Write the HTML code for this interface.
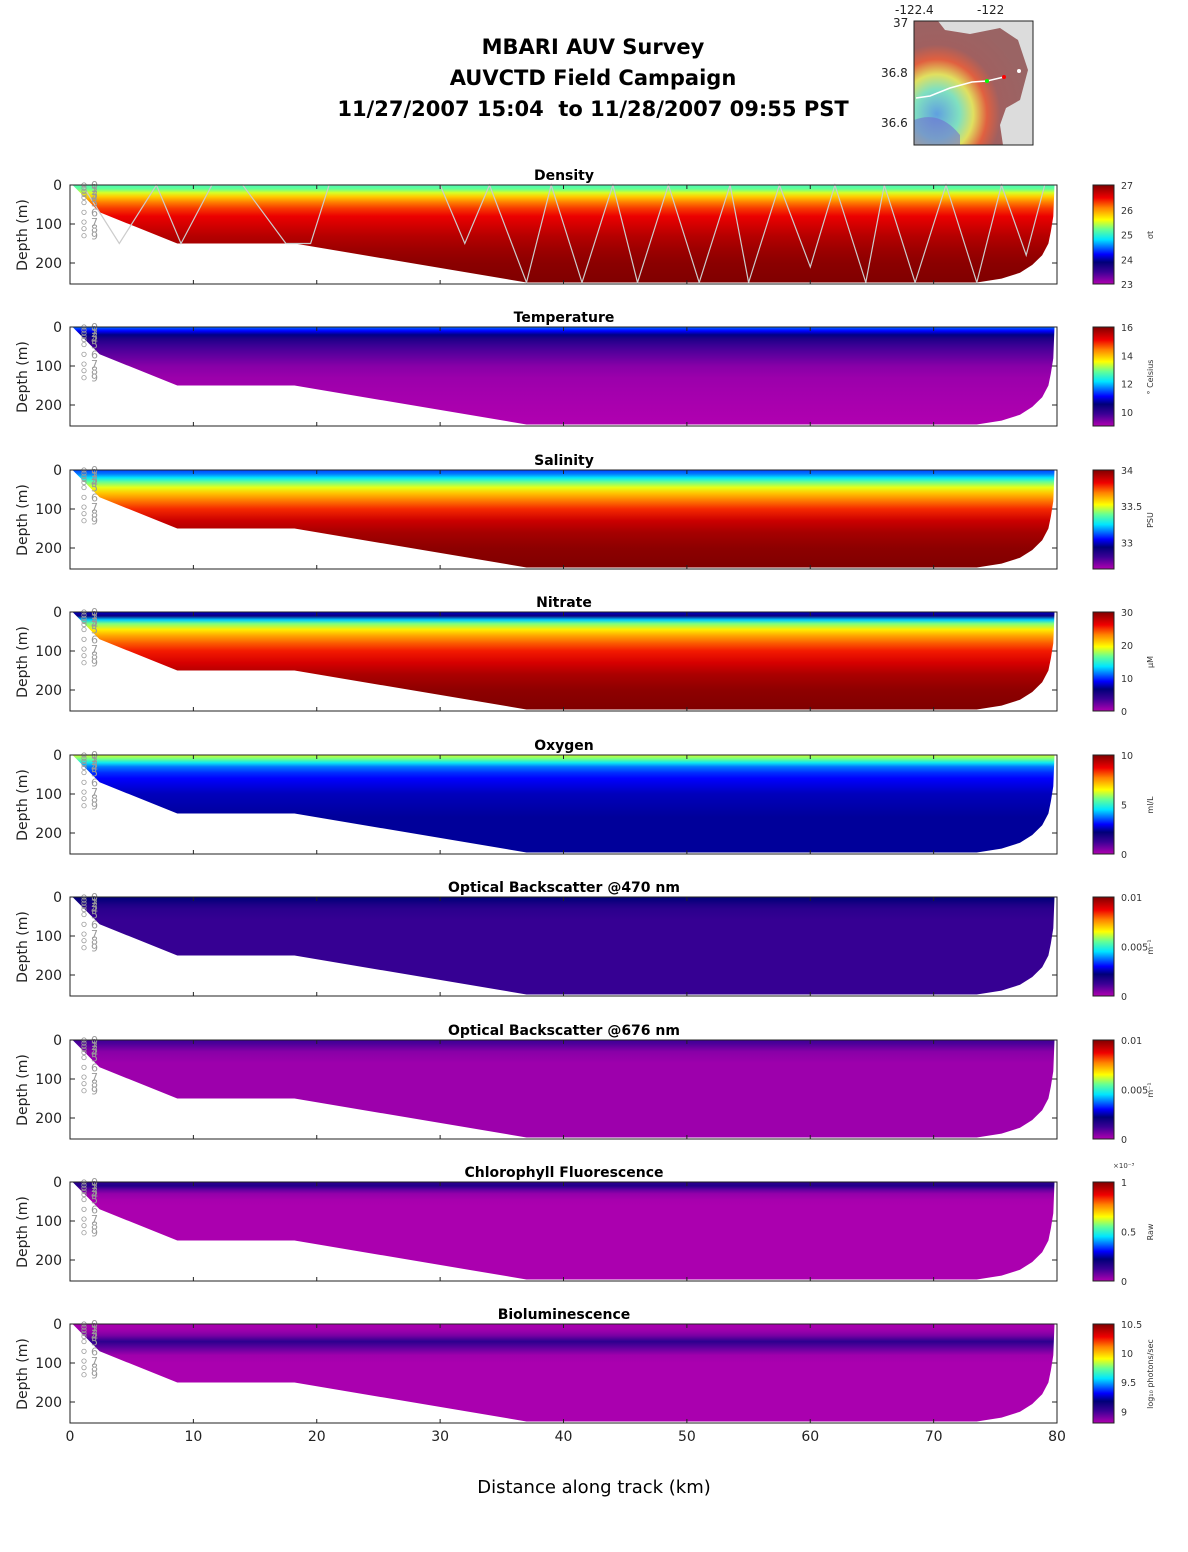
<!DOCTYPE html>
<html><head><meta charset="utf-8">
<style>
body{margin:0;background:#fff;font-family:"DejaVu Sans","Liberation Sans",sans-serif;}
svg text{font-family:"DejaVu Sans","Liberation Sans",sans-serif;}
</style></head>
<body>
<svg id="fig" width="1188" height="1548" xmlns="http://www.w3.org/2000/svg">
<rect width="1188" height="1548" fill="#fff"/>
<g font-weight="bold" font-size="21" text-anchor="middle" fill="#000">
<text x="593" y="54">MBARI AUV Survey</text>
<text x="593" y="85">AUVCTD Field Campaign</text>
<text x="593" y="116" xml:space="preserve">11/27/2007 15:04  to 11/28/2007 09:55 PST</text>
</g>
<g>
<defs>
<radialGradient id="mapg" cx="0.2" cy="0.75" r="0.8">
<stop offset="0" stop-color="#60a0e0"/><stop offset="0.25" stop-color="#80e0c0"/><stop offset="0.4" stop-color="#e0e060"/><stop offset="0.55" stop-color="#e06040"/><stop offset="0.7" stop-color="#a06060"/><stop offset="1" stop-color="#9a6464"/>
</radialGradient>
</defs>
<rect x="914" y="21" width="119" height="124" fill="#dcdcdc"/>
<path d="M914,21 L938,21 L945,30 L970,34 L1000,28 L1018,40 L1028,70 L1020,100 L1006,108 L1000,125 L1003,145 L914,145 Z" fill="url(#mapg)"/>
<path d="M914,120 Q940,110 960,135 L960,145 L914,145Z" fill="#7070d0" opacity="0.6"/>
<polyline points="916,98 930,96 950,88 972,82 987,81 1004,77" fill="none" stroke="#fff" stroke-width="1.5"/>
<circle cx="987" cy="81" r="2" fill="#0f0"/><circle cx="1004" cy="77" r="2" fill="#f00"/><circle cx="1019" cy="71" r="2" fill="#fff"/>
<rect x="914" y="21" width="119" height="124" fill="none" stroke="#222" stroke-width="1"/>
<g font-size="12" fill="#222"><text x="895" y="14">-122.4</text><text x="977" y="14">-122</text>
<text x="893" y="27">37</text><text x="881" y="77">36.8</text><text x="881" y="127">36.6</text></g>
</g>
<g id="panels"></g>
<text x="594" y="1493" font-size="18" text-anchor="middle">Distance along track (km)</text>
</svg>
<script>
// ---- data ----
const bottomKm =    [0.2, 2.4, 8.7, 18.2, 37, 73.5, 75.5, 77, 78, 78.8, 79.3, 79.5, 79.7, 79.75, 79.8];
const bottomDepth = [0,   70,  150, 150,  250, 250, 240,  225, 205, 180, 150, 120, 80, 40, 0];
const xTicks = [0,10,20,30,40,50,60,70,80];
const yTicks = [0,100,200];
const panelTitles = ["Density","Temperature","Salinity","Nitrate","Oxygen","Optical Backscatter @470 nm","Optical Backscatter @676 nm","Chlorophyll Fluorescence","Bioluminescence"];
const cbarUnits = ["σt","° Celsius","PSU","μM","ml/L","m⁻¹","m⁻¹","Raw","log₁₀ photons/sec"];
const cbarMin = [23, 9.0, 32.63, 0, 0, 0, 0, 0, 8.8];
const cbarMax = [27, 16, 34, 30, 10, 0.01, 0.01, 1, 10.5];
const cbarTicks = [[27,26,25,24,23],[16,14,12,10],[34,33.5,33],[30,20,10,0],[10,5,0],[0.01,0.005,0],[0.01,0.005,0],[1,0.5,0],[10.5,10,9.5,9]];
const profDepth = [0, 10, 20, 30, 45, 60, 80, 100, 130, 160, 200, 250];
const profVals = [
 [25.1,25.2,25.5,25.8,26.1,26.3,26.5,26.6,26.75,26.85,26.95,27.0],
 [11.6,11.1,10.6,10.2,9.9,9.7,9.5,9.3,9.15,9.1,9.05,9.0],
 [33.1,33.15,33.25,33.38,33.5,33.6,33.7,33.78,33.88,33.94,33.98,34.0],
 [8,6,13,17,20,22,24,25.5,27,28.5,29.5,30],
 [6.2,5.6,4.6,3.8,3.3,3.0,2.8,2.6,2.5,2.4,2.4,2.4],
 [0.0022,0.0020,0.0017,0.0015,0.0014,0.0013,0.0013,0.0013,0.0013,0.0013,0.0013,0.0013],
 [0.0012,0.0010,0.0007,0.0004,0.0003,0.0002,0.0002,0.0002,0.0002,0.0002,0.0002,0.0002],
 [0.15,0.16,0.08,0.03,0.01,0.005,0.005,0.005,0.005,0.005,0.005,0.005],
 [8.82,8.82,8.85,8.9,9.05,8.95,8.83,8.81,8.81,8.81,8.81,8.81]
];
const diveKm = [1,4,7,9,11.5,14,17.5,19.5,21,28,30,32,34,37,39,41.5,44,46,48.5,51,53.5,55,57.5,60,62,64.5,66,68.5,71,73.5,75.5,77.5,79];
const diveDepth = [0,150,0,150,0,0,150,150,0,0,0,150,0,250,0,250,0,250,0,250,0,250,0,210,0,250,0,250,0,250,0,180,0];
const labelDepth = [0,8,16,24,32,45,70,95,112,130];
// ---- layout ----
const X0=70, X1=1057, KMAX=80, PX=0.39, H=99;
const panelTop = [185,327,470,612,755,897,1040,1182,1324];
const xs = km => X0 + (X1-X0)*km/KMAX;
const NS="http://www.w3.org/2000/svg";
const stops=[[0,[176,0,176]],[0.12,[60,0,150]],[0.22,[0,0,120]],[0.3,[0,0,255]],[0.45,[0,230,255]],[0.55,[100,255,150]],[0.65,[255,255,0]],[0.77,[255,130,0]],[0.87,[240,0,0]],[1,[128,0,0]]];
function cmap(t){t=Math.max(0,Math.min(1,t));for(let i=1;i<stops.length;i++){if(t<=stops[i][0]){const a=stops[i-1],b=stops[i],f=(t-a[0])/(b[0]-a[0]);const c=a[1].map((v,k)=>Math.round(v+(b[1][k]-v)*f));return `rgb(${c})`;}}return 'rgb(128,0,0)';}
function mk(tag,attrs,parent){const e=document.createElementNS(NS,tag);for(const k in attrs)e.setAttribute(k,attrs[k]);parent.appendChild(e);return e;}
const root=document.getElementById('panels');
const defs=mk('defs',{},root);
panelTitles.forEach((title,p)=>{
 const T=panelTop[p], ys=d=>T+d*PX;
 const g=mk('g',{},root);
 
 
 const lo=cbarMin[p],hi=cbarMax[p];
 const gr=mk('linearGradient',{id:'g'+p,x1:0,y1:T,x2:0,y2:ys(250),gradientUnits:'userSpaceOnUse'},defs);
 profDepth.forEach((d,i)=>mk('stop',{offset:d/250,'stop-color':cmap((profVals[p][i]-lo)/(hi-lo))},gr));
 let pts=`${xs(bottomKm[0])},${T} `+bottomKm.map((k,i)=>`${xs(k).toFixed(1)},${ys(bottomDepth[i]).toFixed(1)}`).join(' ');
 const field=mk('polygon',{points:pts,fill:`url(#g${p})`},g);
 
 
 if(p===0){
  const tr=mk('polyline',{points:diveKm.map((k,i)=>`${xs(k).toFixed(1)},${ys(Math.min(diveDepth[i],250)).toFixed(1)}`).join(' '),fill:'none',stroke:'#ccc','stroke-width':1.2},g);
  
  
 }
 const lab=mk('g',{'font-size':11,fill:'#999'},g);
 labelDepth.forEach((d,i)=>{const t=mk('text',{x:91,y:ys(d)+4},lab);t.textContent=i;
  mk('circle',{cx:84,cy:ys(d),r:2.2,fill:'none',stroke:'#999','stroke-width':0.8},lab);});
 mk('rect',{x:X0,y:T,width:X1-X0,height:H,fill:'none',stroke:'#222','stroke-width':1},g);
 xTicks.forEach(k=>{mk('line',{x1:xs(k),x2:xs(k),y1:T,y2:T+4,stroke:'#222'},g);mk('line',{x1:xs(k),x2:xs(k),y1:T+H,y2:T+H-4,stroke:'#222'},g);});
 yTicks.forEach(d=>{mk('line',{x1:X0,x2:X0+5,y1:ys(d),y2:ys(d),stroke:'#222'},g);mk('line',{x1:X1,x2:X1-5,y1:ys(d),y2:ys(d),stroke:'#222'},g);
  const t=mk('text',{x:62,y:ys(d)+5,'font-size':14,'text-anchor':'end',fill:'#222'},g);t.textContent=d;});
 const yl=mk('text',{x:27,y:T+50,'font-size':14,'text-anchor':'middle',transform:`rotate(-90 27 ${T+50})`,fill:'#222'},g);yl.textContent='Depth (m)';
 const tt=mk('text',{x:564,y:T-5,'font-size':14,'font-weight':'bold','text-anchor':'middle'},g);tt.textContent=title;
 const cg=mk('linearGradient',{id:'c'+p,x1:0,y1:1,x2:0,y2:0},defs);
 stops.forEach(s=>mk('stop',{offset:s[0],'stop-color':`rgb(${s[1]})`},cg));
 const cb=mk('rect',{x:1093,y:T,width:21,height:H,fill:`url(#c${p})`,stroke:'#222'},g);
 
 
 cbarTicks[p].forEach(v=>{const y=T+H*(hi-v)/(hi-lo);const t=mk('text',{x:1121,y:y+4,'font-size':9.5,fill:'#333'},g);t.textContent=v;});
 const u=mk('text',{x:1153,y:T+50,'font-size':8,'text-anchor':'middle',transform:`rotate(-90 1153 ${T+50})`,fill:'#333'},g);u.textContent=cbarUnits[p];
 if(p===7){const e=mk('text',{x:1113,y:T-14,'font-size':7,fill:'#333'},g);e.textContent='×10⁻³';}
});
const lastT=panelTop[8];
xTicks.forEach(k=>{const t=mk('text',{x:xs(k),y:lastT+H+18,'font-size':14,'text-anchor':'middle',fill:'#222'},root);t.textContent=k;});
</script>
</body></html>
